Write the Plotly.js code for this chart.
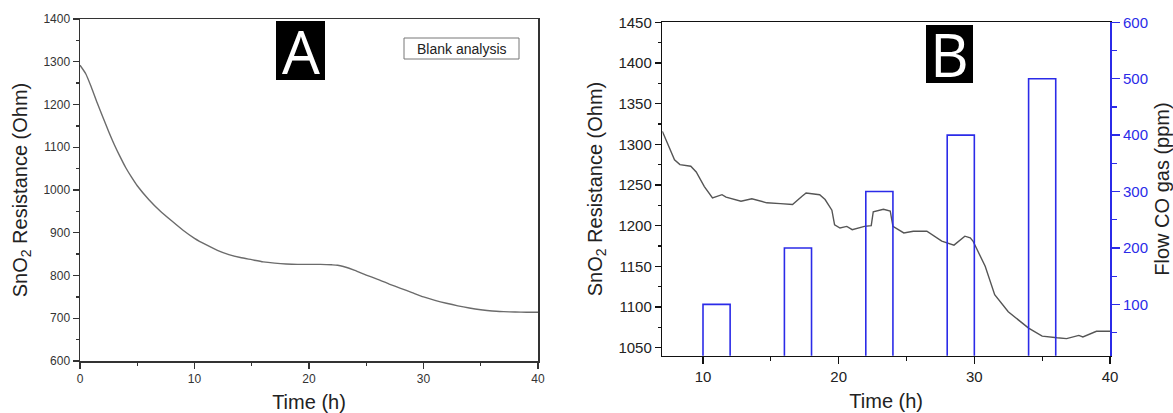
<!DOCTYPE html>
<html>
<head>
<meta charset="utf-8">
<script src="https://cdn.plot.ly/plotly-3.0.1.min.js"></script>
<style>html,body{margin:0;padding:0;background:#fff;}#chart{width:1173px;height:413px;}</style>
</head>
<body>
<div id="chart"></div>
<script>
// Panel A: blank analysis
const timeA = [0,0.5,1,1.5,2,2.5,3,3.5,4,4.5,5,6,7,8,9,10,11,12,13,14,15,16,17,18,19,20,21,22,22.5,23,24,25,26,27,28,29,30,31,32,33,34,35,36,37,38,39,40];
const resA  = [1292,1272,1240,1204,1170,1137,1106,1078,1052,1030,1010,978,951,928,906,887,872,859,849,842,837,832,829,827,826,826,826,825,824,821,812,801,791,780,770,760,750,742,735,729,724,720,717,715.5,714.5,714,714];

// Panel B: response to CO
const timeB = [7.0,7.3,7.9,8.3,9.1,9.5,10.1,10.7,11.4,11.7,12.8,13.6,14.7,15.7,16.6,17.3,17.6,18.6,19.0,19.5,19.7,20.1,20.6,21.0,21.9,22.4,22.55,23.3,23.8,24.0,24.8,25.5,26.5,27.6,28.5,29.3,29.7,29.9,30.8,31.5,32.5,34.0,35.0,36.1,36.8,37.7,38.0,39.0,40.0];
const resB  = [1316,1305,1281,1275,1273,1266,1248,1234,1238,1235,1230,1233,1228,1227,1226,1236,1240,1238,1232,1219,1201,1197,1199,1195,1199,1200,1217,1220,1218,1199,1191,1193,1193,1181,1176,1187,1185,1181,1150,1115,1094,1074,1064,1062,1061,1065,1063,1070,1070];

// CO gas pulses
const coStart = [10,16,22,28,34];
const coEnd   = [12,18,24,30,36];
const coFlow  = [100,200,300,400,500];

const BLUE = '#2b2be8';
const FONT = 'Liberation Sans, Arial, sans-serif';
const W = 1173, H = 413;
const px = v => v / W;
const py = v => 1 - v / H;

const traces = [
  {x: timeA, y: resA, xaxis: 'x', yaxis: 'y', type: 'scatter', mode: 'lines',
   line: {color: '#6b6b6b', width: 1.4, shape: 'spline', smoothing: 0.6}, hoverinfo: 'skip'},
  {x: coStart, y: coFlow, width: coStart.map((s, i) => coEnd[i] - s), offset: 0,
   xaxis: 'x2', yaxis: 'y3', type: 'bar',
   marker: {color: 'rgba(0,0,0,0)', line: {color: BLUE, width: 1.6}}, hoverinfo: 'skip'},
  {x: timeB, y: resB, xaxis: 'x2', yaxis: 'y2', type: 'scatter', mode: 'lines',
   line: {color: '#555555', width: 1.4}, hoverinfo: 'skip'}
];

const axCommon = {
  showgrid: false, zeroline: false, showline: true, ticks: 'outside',
  tickcolor: '#333', linecolor: '#333', linewidth: 1.5, tickwidth: 1.3
};

const layout = {
  width: W, height: H,
  margin: {l: 0, r: 0, t: 0, b: 0},
  paper_bgcolor: '#fff', plot_bgcolor: '#fff',
  showlegend: false,
  font: {family: FONT, color: '#222'},
  xaxis: Object.assign({}, axCommon, {
    domain: [px(80), px(538)], range: [0, 40], dtick: 10, tick0: 0, ticklen: 6, mirror: true,
    minor: {dtick: 5, ticklen: 3, tickcolor: '#333', ticks: 'outside'},
    tickfont: {size: 12, color: '#333'},
    title: {text: 'Time (h)', font: {size: 20, color: '#222'}, standoff: 12}
  }),
  yaxis: Object.assign({}, axCommon, {
    domain: [py(361), py(19)], range: [600, 1400], dtick: 100, ticklen: 6, mirror: true,
    minor: {dtick: 50, ticklen: 3, tickcolor: '#333', ticks: 'outside'},
    tickfont: {size: 12, color: '#333'},
    title: {text: 'SnO<sub>2</sub> Resistance (Ohm)', font: {size: 20, color: '#222'}, standoff: 10}
  }),
  xaxis2: Object.assign({}, axCommon, {
    anchor: 'y2', domain: [px(662.3), px(1110)], range: [7, 40], dtick: 10, tick0: 0, ticklen: 7,
    mirror: true, linecolor: '#111', tickcolor: '#111',
    minor: {dtick: 5, ticklen: 4, tickcolor: '#111', ticks: 'outside'},
    tickfont: {size: 15, color: '#222'},
    title: {text: 'Time (h)', font: {size: 20, color: '#222'}, standoff: 10}
  }),
  yaxis2: Object.assign({}, axCommon, {
    anchor: 'x2', domain: [py(355.7), py(22.3)], range: [1040, 1450], dtick: 50, tick0: 1050, ticklen: 6,
    linecolor: '#111', tickcolor: '#111',
    minor: {dtick: 25, ticklen: 3, tickcolor: '#111', ticks: 'outside'},
    tickfont: {size: 15, color: '#222'},
    title: {text: 'SnO<sub>2</sub> Resistance (Ohm)', font: {size: 20, color: '#222'}, standoff: 10}
  }),
  yaxis3: Object.assign({}, axCommon, {
    anchor: 'x2', overlaying: 'y2', side: 'right', range: [9, 600], dtick: 100, tick0: 0, ticklen: 8,
    linecolor: BLUE, tickcolor: BLUE, linewidth: 2,
    minor: {dtick: 50, ticklen: 5, tickcolor: BLUE, ticks: 'outside'},
    tickfont: {size: 15, color: BLUE},
    title: {text: 'Flow CO gas (ppm)', font: {size: 20, color: '#222'}, standoff: 10}
  }),
  shapes: [
    {type: 'rect', xref: 'paper', yref: 'paper', x0: px(276), x1: px(325), y0: py(80), y1: py(21),
     fillcolor: '#000', line: {width: 0}},
    {type: 'rect', xref: 'paper', yref: 'paper', x0: px(926), x1: px(973), y0: py(83), y1: py(25),
     fillcolor: '#000', line: {width: 0}},
    {type: 'rect', xref: 'paper', yref: 'paper', x0: px(404), x1: px(519), y0: py(59), y1: py(38),
     fillcolor: '#fff', line: {color: '#777', width: 1}}
  ],
  annotations: [
    {xref: 'paper', yref: 'paper', x: px(300.5), y: py(51), text: 'A', showarrow: false,
     xanchor: 'center', yanchor: 'middle', font: {family: 'Open Sans, DejaVu Sans, sans-serif', size: 60, color: '#fff'}},
    {xref: 'paper', yref: 'paper', x: px(949.5), y: py(54.5), text: 'B', showarrow: false,
     xanchor: 'center', yanchor: 'middle', font: {family: 'Open Sans, DejaVu Sans, sans-serif', size: 60, color: '#fff'}},
    {xref: 'paper', yref: 'paper', x: px(461.5), y: py(48.5), text: 'Blank analysis', showarrow: false,
     xanchor: 'center', yanchor: 'middle', font: {family: FONT, size: 14, color: '#222'}}
  ]
};

Plotly.newPlot('chart', traces, layout, {displayModeBar: false, staticPlot: true});
</script>
</body>
</html>
